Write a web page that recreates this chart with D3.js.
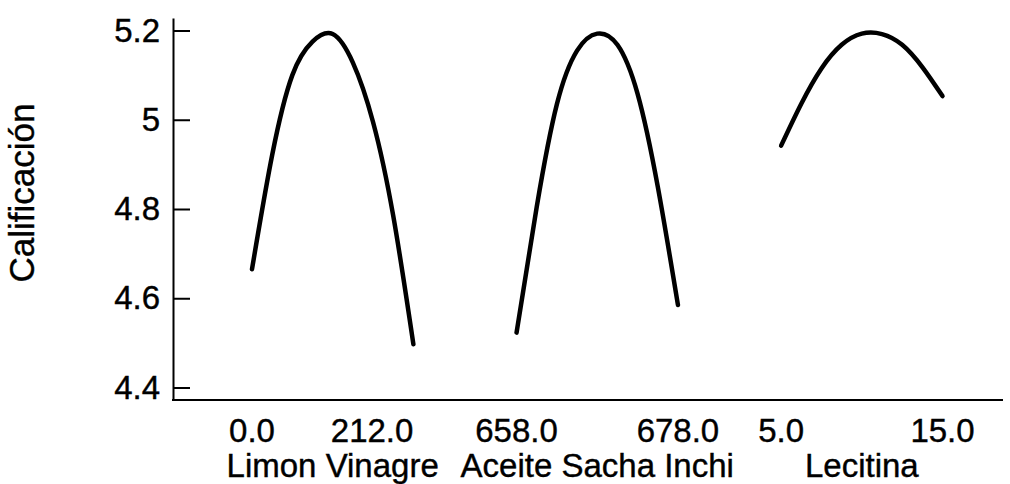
<!DOCTYPE html>
<html>
<head>
<meta charset="utf-8">
<script src="https://cdn.jsdelivr.net/npm/d3@7"></script>
<style>
  body { margin: 0; background: #fff; }
  text { font-family: "Liberation Sans", Arial, sans-serif; fill: #000; stroke: #000; stroke-width: 0.4px; }
</style>
</head>
<body>
<div id="chart"></div>
<script>
// factors and their low / high levels
const factors = ["Limon Vinagre", "Aceite Sacha Inchi", "Lecitina"];
const lowLevels = [0, 658, 5];
const highLevels = [212, 678, 15];
const yTicks = [4.4, 4.6, 4.8, 5, 5.2];

// response for each factor
const limonX = [0, 26.5, 53, 79.5, 106, 132.5, 159, 185.5, 212];
const limonY = [4.665, 4.921, 5.10, 5.175, 5.192, 5.128, 4.995, 4.785, 4.497];
const aceiteX = [658, 660.5, 663, 665.5, 668, 670.5, 673, 675.5, 678];
const aceiteY = [4.523, 4.805, 5.035, 5.155, 5.193, 5.168, 5.058, 4.85, 4.585];
const lecitinaX = [5, 6.25, 7.5, 8.75, 10, 11.25, 12.5, 13.75, 15];
const lecitinaY = [4.942, 5.036, 5.115, 5.168, 5.193, 5.192, 5.168, 5.118, 5.053];

const seriesX = [limonX, aceiteX, lecitinaX];
const seriesY = [limonY, aceiteY, lecitinaY];

const w = 1010, h = 484;
const axisX = 173, axisY = 400;
const highAnchor = ["end", "middle", "middle"];

const svg = d3.select("#chart").append("svg")
  .attr("width", w).attr("height", h);

const yScale = d3.scaleLinear()
  .domain([4.372, 5.228])
  .range([axisY, 18]);

const xBand = d3.scaleBand()
  .domain(factors)
  .range([252, 942.5])
  .paddingInner(0.39)
  .paddingOuter(0);

// y axis, ticks pointing inside
const yAxis = d3.axisLeft(yScale)
  .tickValues(yTicks)
  .tickFormat(d => String(d))
  .tickSizeInner(-17)
  .tickSizeOuter(0)
  .tickPadding(13);

const gy = svg.append("g")
  .attr("transform", `translate(${axisX},0)`)
  .call(yAxis);
gy.select(".domain").attr("stroke", "#000").attr("stroke-width", 2);
gy.selectAll(".tick line").attr("stroke", "#000").attr("stroke-width", 2);
gy.selectAll(".tick text")
  .style("font-family", "'Liberation Sans', Arial, sans-serif")
  .style("font-size", "33px")
  .attr("fill", "#000");

// bottom line
svg.append("line")
  .attr("x1", axisX - 1).attr("x2", 1003)
  .attr("y1", axisY).attr("y2", axisY)
  .attr("stroke", "#000").attr("stroke-width", 2);

const line = d3.line()
  .x(d => d[0])
  .y(d => yScale(d[1]))
  .curve(d3.curveNatural);

const fmt = d3.format(".1f");

factors.forEach((f, i) => {
  const x0 = xBand(f);
  const inner = d3.scaleLinear()
    .domain([lowLevels[i], highLevels[i]])
    .range([x0, x0 + xBand.bandwidth()]);

  const pts = seriesX[i].map((v, k) => [inner(v), seriesY[i][k]]);
  svg.append("path")
    .datum(pts)
    .attr("d", line)
    .attr("fill", "none")
    .attr("stroke", "#000")
    .attr("stroke-width", 4.5)
    .attr("stroke-linecap", "round")
    .attr("stroke-linejoin", "round");

  svg.append("text")
    .attr("x", inner(lowLevels[i])).attr("y", 442)
    .attr("text-anchor", "middle")
    .style("font-size", "33px")
    .text(fmt(lowLevels[i]));
  svg.append("text")
    .attr("x", inner(highLevels[i])).attr("y", 442)
    .attr("text-anchor", highAnchor[i])
    .style("font-size", "33px")
    .text(fmt(highLevels[i]));
  svg.append("text")
    .attr("x", x0 + xBand.bandwidth() / 2).attr("y", 477)
    .attr("text-anchor", "middle")
    .style("font-size", "33px")
    .text(f);
});

svg.append("text")
  .attr("transform", "translate(34,193) rotate(-90)")
  .attr("text-anchor", "middle")
  .style("font-size", "35px")
  .text("Calificación");
</script>
</body>
</html>
